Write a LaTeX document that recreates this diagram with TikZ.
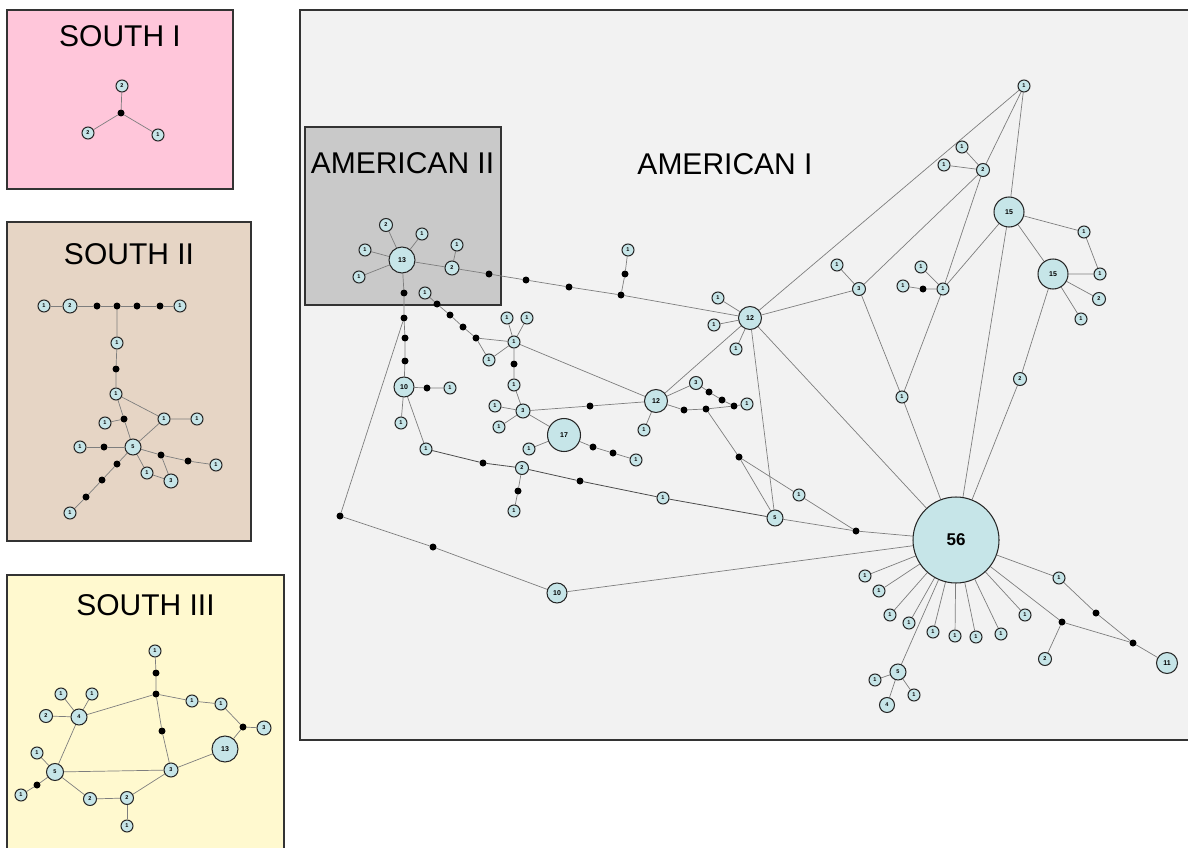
\documentclass[tikz,border=0pt]{standalone}
\usepackage{fontspec}
\setmainfont{Liberation Sans}
\pgfdeclarelayer{boxes}
\pgfdeclarelayer{edges}
\pgfsetlayers{boxes,edges,main}
\definecolor{nb}{HTML}{C6E5E8}
\definecolor{pinkc}{HTML}{FFC6DA}
\definecolor{tanc}{HTML}{E6D5C5}
\definecolor{yelc}{HTML}{FFF9CF}
\definecolor{amc}{HTML}{F2F2F2}
\definecolor{amtwo}{HTML}{C9C9C9}
\definecolor{edc}{HTML}{7E7E7E}
\definecolor{bordc}{HTML}{333333}
\tikzset{
  nd/.style={circle, draw=black!85, line width=1.05pt, fill=nb, inner sep=0pt, minimum size=#1, font=\fontsize{5.5}{5.5}\selectfont\bfseries},
  nd/.default=12,
  big/.style={font=\fontsize{7}{7}\selectfont\bfseries},
  dt/.style={circle, fill=black, inner sep=0pt, minimum size=7},
  ed/.style={draw=edc, line width=0.7pt},
  edk/.style={draw=black!70, line width=0.8pt},
  boxln/.style={draw=bordc, line width=1.2pt},
  ttl/.style={font=\fontsize{30}{30}\selectfont, inner sep=0pt, anchor=base}
}
\begin{document}
\begin{tikzpicture}[x=1pt,y=-1pt]
\useasboundingbox (0,0) rectangle (1188,848);
\begin{pgfonlayer}{boxes}
\draw[boxln, fill=pinkc] (7,10) rectangle (233,189);
\draw[boxln, fill=tanc] (7,222) rectangle (251,541);
\fill[yelc] (7,575) rectangle (284,848);
\draw[boxln] (7,849) -- (7,575) -- (284,575) -- (284,849);
\fill[amc] (300,10) rectangle (1188,740);
\draw[boxln] (1189,10) -- (300,10) -- (300,740) -- (1189,740);
\draw[boxln, fill=amtwo] (305,127) rectangle (501,305);
\end{pgfonlayer}
\node[ttl] (tS1) at (120,47) {SOUTH I};
\node[ttl] (tS2) at (129,264) {SOUTH II};
\node[ttl] (tS3) at (145.5,615) {SOUTH III};
\node[ttl] (tA2) at (402.5,173) {AMERICAN II};
\node[ttl] (tA1) at (725,174) {AMERICAN I};

% ---------- SOUTH I
\node[dt] (s1c) at (121,113) {};
\node[nd] (s1a) at (122,86) {2};
\node[nd] (s1b) at (88,133) {2};
\node[nd] (s1d) at (158,135) {1};
\begin{pgfonlayer}{edges}
\draw[ed] (s1c) -- (s1a); \draw[ed] (s1c) -- (s1b); \draw[ed] (s1c) -- (s1d);
\end{pgfonlayer}

% ---------- SOUTH II
\node[nd] (t1) at (44,306) {1};
\node[nd=14] (t2) at (70,306) {2};
\node[dt] (td1) at (97,306) {};
\node[dt] (td2) at (117,306) {};
\node[dt] (td3) at (137,306) {};
\node[dt] (td4) at (160,306) {};
\node[nd] (t3) at (180,306) {1};
\node[nd] (t4) at (117,343) {1};
\node[dt] (td5) at (116,369) {};
\node[nd] (t5) at (116,394) {1};
\node[dt] (td6) at (124,419) {};
\node[nd] (t6) at (105,423) {1};
\node[nd] (t7) at (164,419) {1};
\node[nd] (t8) at (197,419) {1};
\node[nd=16] (t9) at (133,447) {5};
\node[dt] (td7) at (104,447) {};
\node[nd] (t10) at (80,447) {1};
\node[dt] (td8) at (161,455) {};
\node[dt] (td9) at (188,461) {};
\node[nd] (t11) at (216,465) {1};
\node[nd] (t12) at (147,473) {1};
\node[nd=14] (t13) at (171,481) {3};
\node[dt] (td10) at (117,464) {};
\node[dt] (td11) at (102,480) {};
\node[dt] (td12) at (86,497) {};
\node[nd] (t14) at (70,513) {1};
\begin{pgfonlayer}{edges}
\draw[ed] (t1) -- (t2) -- (td1) -- (td2) -- (td3) -- (td4) -- (t3);
\draw[ed] (td2) -- (t4) -- (td5) -- (t5) -- (td6) -- (t9);
\draw[ed] (td6) -- (t6);
\draw[ed] (t5) -- (t7) -- (t8);
\draw[ed] (t7) -- (t9);
\draw[ed] (t9) -- (td7) -- (t10);
\draw[ed] (t9) -- (td8) -- (td9) -- (t11);
\draw[ed] (td8) -- (t13);
\draw[ed] (t9) -- (t12) -- (t13);
\draw[ed] (t9) -- (td10) -- (td11) -- (td12) -- (t14);
\end{pgfonlayer}

% ---------- SOUTH III
\node[nd] (u1) at (155,651) {1};
\node[dt] (ud1) at (156,673) {};
\node[dt] (ud2) at (156,694) {};
\node[nd] (u2) at (192,701) {1};
\node[nd] (u3) at (221,704) {1};
\node[dt] (ud3) at (243,727) {};
\node[nd=14] (u4) at (264,728) {3};
\node[nd=26, big] (u5) at (225,749) {13};
\node[dt] (ud4) at (162,731) {};
\node[nd=14] (u6) at (171,770) {3};
\node[nd=16] (u7) at (79,717) {4};
\node[nd] (u8) at (61,694) {1};
\node[nd] (u9) at (92,694) {1};
\node[nd=13] (u10) at (46,716) {2};
\node[nd=17] (u11) at (55,772) {5};
\node[nd] (u12) at (37,753) {1};
\node[dt] (ud5) at (37,785) {};
\node[nd] (u13) at (21,795) {1};
\node[nd=13] (u14) at (90,799) {2};
\node[nd=13] (u15) at (127,798) {2};
\node[nd] (u16) at (127,826) {1};
\begin{pgfonlayer}{edges}
\draw[ed] (u1) -- (ud1) -- (ud2) -- (u2) -- (u3) -- (ud3) -- (u4);
\draw[ed] (ud3) -- (u5);
\draw[ed] (ud2) -- (ud4) -- (u6) -- (u5);
\draw[ed] (ud2) -- (u7);
\draw[ed] (u7) -- (u8); \draw[ed] (u7) -- (u9); \draw[ed] (u7) -- (u10);
\draw[ed] (u7) -- (u11);
\draw[ed] (u11) -- (u12);
\draw[ed] (u11) -- (ud5) -- (u13);
\draw[ed] (u11) -- (u6);
\draw[ed] (u11) -- (u14) -- (u15) -- (u6);
\draw[ed] (u15) -- (u16);
\end{pgfonlayer}

% ---------- AMERICAN II
\node[nd=26, big] (A13) at (402,260) {13};
\node[nd=13] (a2) at (386,225) {2};
\node[nd] (a1) at (422,234) {1};
\node[nd] (a1b) at (365,250) {1};
\node[nd] (a1c) at (359,277) {1};
\node[nd=14] (aB) at (452,268) {2};
\node[nd] (aB1) at (457,245) {1};
\node[dt] (ad1) at (489,274) {};
\node[dt] (ad2) at (526,280) {};
\node[dt] (ad3) at (569,287) {};
\node[dt] (ad4) at (621,295) {};
\node[dt] (ad5) at (625,274) {};
\node[nd] (aT1) at (628,250) {1};

% vertical chain
\node[dt] (v1) at (404,293) {};
\node[dt] (v2) at (404,318) {};
\node[dt] (v3) at (405,338) {};
\node[dt] (v4) at (405,361) {};
\node[nd=20, big] (N10) at (404,387) {10};
\node[dt] (x1) at (427,388) {};
\node[nd] (x2) at (450,388) {1};
\node[nd] (x3) at (401,423) {1};
\node[nd] (x4) at (426,449) {1};
\node[dt] (w1) at (340,516) {};
\node[dt] (w2) at (433,547) {};
\node[nd=20, big] (B10) at (557,593) {10};

\node[dt] (y1) at (483,463) {};
\node[nd=13] (H2) at (522,468) {2};
\node[dt] (y2) at (580,481) {};
\node[nd] (y3) at (663,498) {1};
\node[dt] (y4) at (518,491) {};
\node[nd] (y5) at (514,511) {1};

% C chain
\node[nd] (C1) at (425,293) {1};
\node[dt] (c1) at (437,304) {};
\node[dt] (c2) at (450,315) {};
\node[dt] (c3) at (463,327) {};
\node[dt] (c4) at (476,338) {};
\node[nd] (c5) at (489,360) {1};
\node[nd] (D1) at (514,342) {1};
\node[nd] (D1a) at (507,318) {1};
\node[nd] (D1b) at (527,318) {1};
\node[dt] (e1) at (514,364) {};
\node[nd] (e2) at (514,385) {1};
\node[nd=14] (E3) at (523,411) {3};
\node[nd] (E3a) at (495,406) {1};
\node[nd] (E3b) at (499,427) {1};
\node[dt] (f1) at (590,406) {};
\node[nd=33, big] (G17) at (564,435) {17};
\node[nd] (G1) at (529,449) {1};
\node[dt] (g1) at (593,447) {};
\node[dt] (g2) at (613,453) {};
\node[nd] (g3) at (636,460) {1};

\node[nd=23, big] (L12) at (656,401) {12};
\node[nd] (L1) at (644,430) {1};
\node[dt] (h1) at (684,410) {};
\node[dt] (h2) at (706,409) {};
\node[dt] (h3) at (734,406) {};
\node[nd] (h8) at (747,404) {1};
\node[nd=13] (L3) at (696,383) {3};
\node[dt] (h4) at (709,392) {};
\node[dt] (h5) at (722,400) {};
\node[dt] (h6) at (739,457) {};
\node[nd] (h9) at (799,495) {1};
\node[dt] (h7) at (856,531) {};
\node[nd=16] (P5) at (775,518) {5};

\node[nd=23, big] (U12) at (750,318) {12};
\node[nd] (U1a) at (718,298) {1};
\node[nd] (U1b) at (714,325) {1};
\node[nd] (U1c) at (736,349) {1};
\node[nd=13] (R3) at (859,289) {3};
\node[nd] (R3a) at (837,265) {1};
\node[nd] (TOP1) at (1024,86) {1};
\node[nd=13] (R2) at (983,170) {2};
\node[nd] (R2a) at (962,147) {1};
\node[nd] (R2b) at (944,165) {1};
\node[nd] (S1) at (943,289) {1};
\node[nd] (S1a) at (921,267) {1};
\node[dt] (sd) at (923,289) {};
\node[nd] (S1b) at (903,286) {1};
\node[nd] (Q1) at (902,397) {1};
\node[nd=30, big] (F15a) at (1009,212) {15};
\node[nd=30, big] (F15b) at (1053,274) {15};
\node[nd] (Fa) at (1084,232) {1};
\node[nd] (Fb) at (1100,274) {1};
\node[nd=13] (Fc) at (1099,299) {2};
\node[nd] (Fd) at (1081,319) {1};
\node[nd=13] (Fe) at (1020,379) {2};

\node[nd=86, font=\fontsize{17}{17}\selectfont\bfseries] (H56) at (956,540) {56};
\node[nd] (k1) at (865,576) {1};
\node[nd] (k2) at (879,591) {1};
\node[nd] (k3) at (890,615) {1};
\node[nd] (k4) at (909,623) {1};
\node[nd] (k5) at (933,632) {1};
\node[nd] (k6) at (955,636) {1};
\node[nd] (k7) at (976,637) {1};
\node[nd] (k8) at (1001,634) {1};
\node[nd] (k9) at (1025,615) {1};
\node[nd] (k10) at (1059,578) {1};
\node[dt] (kd1) at (1096,613) {};
\node[dt] (kd2) at (1133,643) {};
\node[nd=21, big] (K11) at (1167,663) {11};
\node[dt] (kd3) at (1062,622) {};
\node[nd=13] (k11) at (1045,659) {2};
\node[nd=16] (M5) at (898,672) {5};
\node[nd] (M1a) at (875,680) {1};
\node[nd=15] (M4) at (887,705) {4};
\node[nd] (M1b) at (914,695) {1};

\begin{pgfonlayer}{edges}
\draw[ed] (A13) -- (a2); \draw[ed] (A13) -- (a1); \draw[ed] (A13) -- (a1b); \draw[ed] (A13) -- (a1c);
\draw[ed] (A13) -- (aB) -- (aB1);
\draw[ed] (aB) -- (ad1) -- (ad2) -- (ad3) -- (ad4) -- (ad5) -- (aT1);
\draw[ed] (ad4) -- (U12);
\draw[ed] (A13) -- (v1) -- (v2) -- (v3) -- (v4) -- (N10);
\draw[ed] (v2) -- (w1) -- (w2) -- (B10) -- (H56);
\draw[ed] (N10) -- (x1) -- (x2);
\draw[ed] (N10) -- (x3);
\draw[ed] (N10) -- (x4);
\draw[edk] (x4) -- (y1) -- (H2) -- (y2) -- (y3) -- (P5);
\draw[ed] (H2) -- (y4) -- (y5);
\draw[ed] (C1) -- (c1) -- (c2) -- (c3) -- (c4) -- (D1);
\draw[ed] (c4) -- (c5) -- (D1);
\draw[ed] (D1) -- (D1a); \draw[ed] (D1) -- (D1b);
\draw[ed] (D1) -- (e1) -- (e2) -- (E3);
\draw[ed] (D1) -- (L12);
\draw[ed] (E3) -- (E3a); \draw[ed] (E3) -- (E3b);
\draw[ed] (E3) -- (f1) -- (L12);
\draw[ed] (E3) -- (G17);
\draw[ed] (G17) -- (G1);
\draw[ed] (G17) -- (g1) -- (g2) -- (g3);
\draw[ed] (L12) -- (L1);
\draw[ed] (L12) -- (h1) -- (h2) -- (h3) -- (h8);
\draw[ed] (L12) -- (L3) -- (h4) -- (h5) -- (h3);
\draw[ed] (L12) -- (U12);
\draw[ed] (h2) -- (h6) -- (P5);
\draw[ed] (h6) -- (h9) -- (h7);
\draw[ed] (P5) -- (h7) -- (H56);
\draw[ed] (U12) -- (P5);
\draw[ed] (U12) -- (H56);
\draw[ed] (U12) -- (U1a); \draw[ed] (U12) -- (U1b); \draw[ed] (U12) -- (U1c);
\draw[ed] (U12) -- (TOP1);
\draw[ed] (U12) -- (R3);
\draw[ed] (R3) -- (R3a);
\draw[ed] (R3) -- (R2);
\draw[ed] (R3) -- (Q1);
\draw[ed] (R2) -- (R2a); \draw[ed] (R2) -- (R2b);
\draw[ed] (R2) -- (TOP1);
\draw[ed] (R2) -- (S1);
\draw[ed] (S1) -- (S1a);
\draw[ed] (S1) -- (sd) -- (S1b);
\draw[ed] (S1) -- (F15a);
\draw[ed] (S1) -- (Q1) -- (H56);
\draw[ed] (TOP1) -- (F15a);
\draw[ed] (F15a) -- (Fa) -- (Fb) -- (F15b);
\draw[ed] (F15a) -- (F15b);
\draw[ed] (F15b) -- (Fc); \draw[ed] (F15b) -- (Fd);
\draw[ed] (F15b) -- (Fe) -- (H56);
\draw[ed] (F15a) -- (H56);
\foreach \k in {k1,k2,k3,k4,k5,k6,k7,k8,k9} \draw[ed] (H56) -- (\k);
\draw[ed] (H56) -- (k10) -- (kd1) -- (kd2) -- (K11);
\draw[ed] (H56) -- (kd3) -- (kd2);
\draw[ed] (kd3) -- (k11);
\draw[ed] (H56) -- (M5);
\draw[ed] (M5) -- (M1a); \draw[ed] (M5) -- (M4); \draw[ed] (M5) -- (M1b);
\end{pgfonlayer}
\end{tikzpicture}
\end{document}
